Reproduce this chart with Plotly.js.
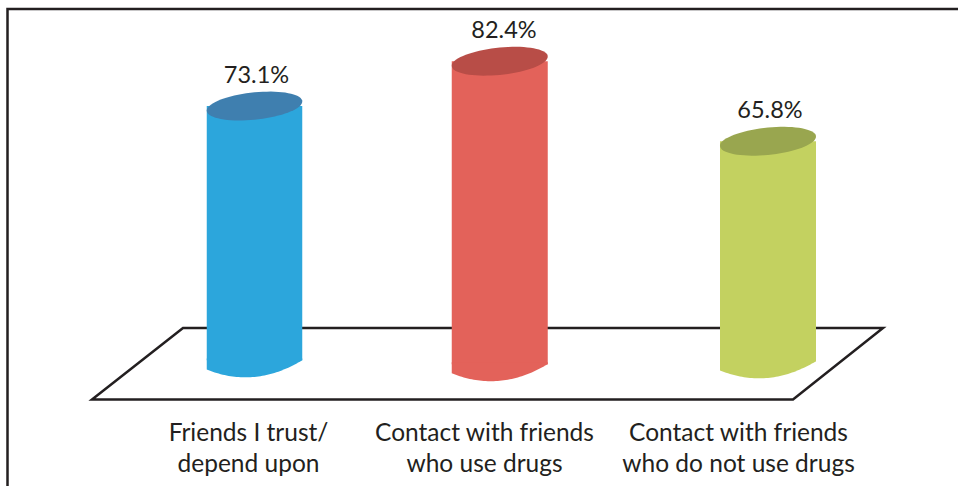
<!DOCTYPE html>
<html>
<head>
<meta charset="utf-8">
<script src="https://cdn.plot.ly/plotly-3.0.1.min.js"></script>
<style>html,body{margin:0;padding:0;background:#fff;overflow:hidden}</style>
</head>
<body>
<div id="chart" style="width:958px;height:486px"></div>
<script>
// Data
var categories = ["Friends I trust/<br>depend upon", "Contact with friends<br>who use drugs", "Contact with friends<br>who do not use drugs"];
var values = [73.1, 82.4, 65.8];
var valueLabels = ["73.1%", "82.4%", "65.8%"];
var barBase = [19.4, 18.6, 19.2];
// Layout helpers
var barCenters = [254.5, 499.75, 768];
var barWidths = [95.5, 96, 96];
var labelCenters = [248.5, 484.5, 738.5];
var valueLabelCenters = [256.5, 504, 770];
var colors = ["#2CA6DC", "#E3625A", "#C3D160"];
var capColors = ["#3F7FAF", "#B84D47", "#99A64F"];
var floorX = [92, 183, 883, 793];
var floorY = [12.2, 27.05, 27.05, 12.2];
var inkColor = "#231F20";
var fontFamily = "Lato, sans-serif";
var tilt = 0.95;

var W = 958, H = 486, plotH = 410;
var yRange = [10.04, 95.1];

function ellipse(cx, cy, halfW, halfH) {
  var xs = [], ys = [];
  for (var i = 0; i <= 72; i++) {
    var t = i / 72 * 2 * Math.PI;
    xs.push(cx + halfW * Math.cos(t));
    ys.push(cy + tilt * Math.cos(t) + halfH * Math.sin(t));
  }
  return {x: xs, y: ys};
}

// Curved foot of a cylinder: a shallow arc, closed up into the body of the bar.
function foot(cx, cy, halfW, sag) {
  var xs = [cx - halfW], ys = [cy + tilt + 0.4];
  for (var i = 0; i <= 48; i++) {
    var s = -1 + i / 24;
    xs.push(cx + halfW * s);
    ys.push(cy + tilt * s - sag * (1 - s * s));
  }
  xs.push(cx + halfW);
  ys.push(cy + tilt + 0.4);
  return {x: xs, y: ys};
}

var traces = [{
  type: "bar",
  x: barCenters,
  y: values.map(function (v, i) { return v - barBase[i] - tilt; }),
  base: barBase.map(function (b) { return b + tilt; }),
  width: barWidths,
  marker: {color: colors, line: {width: 0}},
  hoverinfo: "skip"
}];

barCenters.forEach(function (cx, i) {
  var bottom = foot(cx, barBase[i], barWidths[i] / 2, 2.5);
  traces.push({type: "scatter", mode: "none", x: bottom.x, y: bottom.y, fill: "toself",
    fillcolor: colors[i], hoverinfo: "skip"});
  var top = ellipse(cx, values[i], barWidths[i] / 2, 2.84);
  traces.push({type: "scatter", mode: "none", x: top.x, y: top.y, fill: "toself",
    fillcolor: capColors[i], hoverinfo: "skip"});
});

traces.push({
  type: "scatter",
  mode: "text",
  x: valueLabelCenters,
  y: values.map(function (v) { return v + 6.0; }),
  text: valueLabels,
  textposition: "middle center",
  textfont: {family: fontFamily, size: 23.5, color: inkColor},
  hoverinfo: "skip"
});

var floorPath = floorX.map(function (x, i) {
  return (i ? "L" : "M") + x + "," + floorY[i];
}).join(" ") + " Z";

var layout = {
  width: W,
  height: H,
  margin: {l: 0, r: 0, t: 0, b: H - plotH, pad: 0},
  paper_bgcolor: "#fff",
  plot_bgcolor: "#fff",
  showlegend: false,
  hovermode: false,
  xaxis: {
    range: [0, W],
    showgrid: false,
    zeroline: false,
    showline: false,
    ticks: "",
    tickmode: "array",
    tickvals: labelCenters,
    ticktext: categories,
    tickangle: 0,
    ticklabelstandoff: 5,
    tickfont: {family: fontFamily, size: 24.5, color: inkColor}
  },
  yaxis: {
    range: yRange,
    showgrid: false,
    zeroline: false,
    showline: false,
    showticklabels: false,
    ticks: ""
  },
  shapes: [
    {type: "path", layer: "below", xref: "x", yref: "y", path: floorPath,
     line: {color: inkColor, width: 2.5}, fillcolor: "rgba(0,0,0,0)"},
    {type: "path", layer: "above", xref: "paper", yref: "paper",
     path: "M" + (7.5 / W) + "," + (-(H - plotH) / plotH) +
           " L" + (7.5 / W) + "," + (1 - 9 / plotH) +
           " L1," + (1 - 9 / plotH),
     line: {color: inkColor, width: 2.5}, fillcolor: "rgba(0,0,0,0)"}
  ]
};

Plotly.newPlot("chart", traces, layout, {displayModeBar: false, staticPlot: true});
</script>
</body>
</html>
